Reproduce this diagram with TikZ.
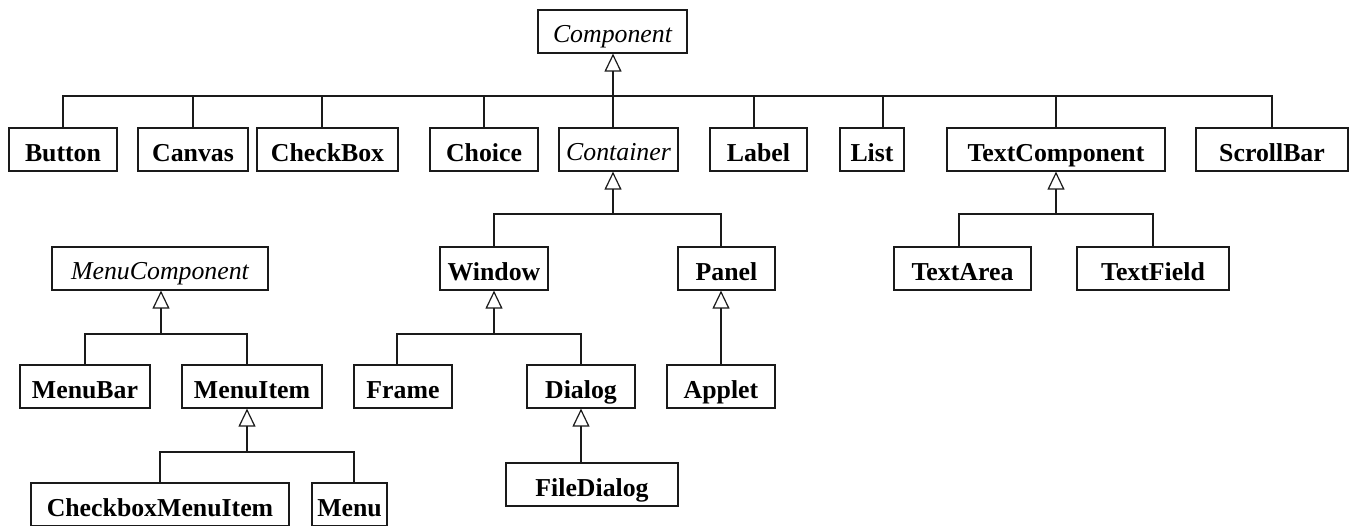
\documentclass[tikz,border=0pt]{standalone}
\usepackage{fontspec}
\setmainfont{Liberation Serif}
\definecolor{ink}{HTML}{1A1A1A}
\usetikzlibrary{arrows.meta, positioning, calc}
\tikzset{
  cls/.style={draw=ink, fill=white, line width=0.6pt, font=\fontsize{12.9}{14}\selectfont\bfseries,
              minimum height=21.5pt, inner sep=0pt, text height=12.5pt, text depth=1pt},
  abstract/.style={cls, font=\fontsize{12.9}{14}\selectfont\itshape, text height=11.5pt},
  link/.style={draw=ink, line width=0.6pt},
  inherit/.style={link, -{Triangle[open, length=9pt, width=8.5pt]}},
}
\begin{document}
\begin{tikzpicture}[x=0.5pt, y=-0.5pt]
\useasboundingbox (0,0) rectangle (1349,525);
% top level
\node[abstract, minimum width=74.5pt] (component) at (612.5,31.5) {Component};
\node[cls, minimum width=54pt] (button) at (63,149.5) {Button};
\node[cls, minimum width=55pt] (canvas) at (193,149.5) {Canvas};
\node[cls, minimum width=70.5pt] (checkbox) at (327.5,149.5) {CheckBox};
\node[cls, minimum width=54pt] (choice) at (484,149.5) {Choice};
\node[abstract, minimum width=59.5pt] (container) at (618.5,149.5) {Container};
\node[cls, minimum width=48.5pt] (label) at (758.5,149.5) {Label};
\node[cls, minimum width=32pt] (list) at (872,149.5) {List};
\node[cls, minimum width=109pt] (textcomp) at (1056,149.5) {TextComponent};
\node[cls, minimum width=76pt] (scrollbar) at (1272,149.5) {ScrollBar};
% second level
\node[abstract, minimum width=108pt] (menucomp) at (160,268.5) {MenuComponent};
\node[cls, minimum width=54pt] (window) at (494,268.5) {Window};
\node[cls, minimum width=48.5pt] (panel) at (726.5,268.5) {Panel};
\node[cls, minimum width=68.5pt] (textarea) at (962.5,268.5) {TextArea};
\node[cls, minimum width=76pt] (textfield) at (1153,268.5) {TextField};
% third level
\node[cls, minimum width=65pt] (menubar) at (85,386.5) {MenuBar};
\node[cls, minimum width=70pt] (menuitem) at (252,386.5) {MenuItem};
\node[cls, minimum width=49pt] (frame) at (403,386.5) {Frame};
\node[cls, minimum width=54pt] (dialog) at (581,386.5) {Dialog};
\node[cls, minimum width=54pt] (applet) at (721,386.5) {Applet};
% bottom
\node[cls, minimum width=86pt] (filedialog) at (592,484.5) {FileDialog};
\node[cls, minimum width=129pt] (cbmenuitem) at (160,504.5) {CheckboxMenuItem};
\node[cls, minimum width=37.5pt] (menu) at (349.5,504.5) {Menu};

% Component tree
\coordinate (compbus) at (613,96);
\draw[inherit] (compbus) -- (compbus |- component.south);
\draw[link] (button.north) |- (compbus) -| (scrollbar.north);
\draw[link] (canvas.north) -- (canvas.north |- compbus);\draw[link] (choice.north) -- (choice.north |- compbus);
\draw[link] ([xshift=-2.75pt]checkbox.north) -- ([xshift=-2.75pt]checkbox.north |- compbus);
\draw[link] ([xshift=-2.25pt]label.north) -- ([xshift=-2.25pt]label.north |- compbus);
\draw[link] ([xshift=5.5pt]list.north) -- ([xshift=5.5pt]list.north |- compbus);
\draw[link] (textcomp.north) -- (textcomp.north |- compbus);
\draw[link] (compbus) -- (compbus |- container.north);

\coordinate (contbus) at (613,214);
\draw[inherit] (contbus) -- (contbus |- container.south);
\draw[link] (window.north) |- (contbus) -| (applet.north |- panel.north);
\draw[inherit] (applet.north) -- (applet.north |- panel.south);

\coordinate (winbus) at (494,334);
\draw[inherit] (winbus) -- (window.south);
\draw[link] ([xshift=-3pt]frame.north) |- (winbus) -| (dialog.north);
\draw[inherit] (dialog.south |- filedialog.north) -- (dialog.south);

\coordinate (textbus) at (1056,214);
\draw[inherit] (textbus) -- (textcomp.south);
\draw[link] ([xshift=-1.75pt]textarea.north) |- (textbus) -| (textfield.north);

% MenuComponent tree
\coordinate (menubus) at (161,334);
\draw[inherit] (menubus) -- (menubus |- menucomp.south);
\draw[link] (menubar.north) |- (menubus) -| ([xshift=-2.5pt]menuitem.north);

\coordinate (itembus) at (247,452);
\draw[inherit] (itembus) -- (itembus |- menuitem.south);
\draw[link] (cbmenuitem.north) |- (itembus) -| ([xshift=2.25pt]menu.north);
\end{tikzpicture}
\end{document}
